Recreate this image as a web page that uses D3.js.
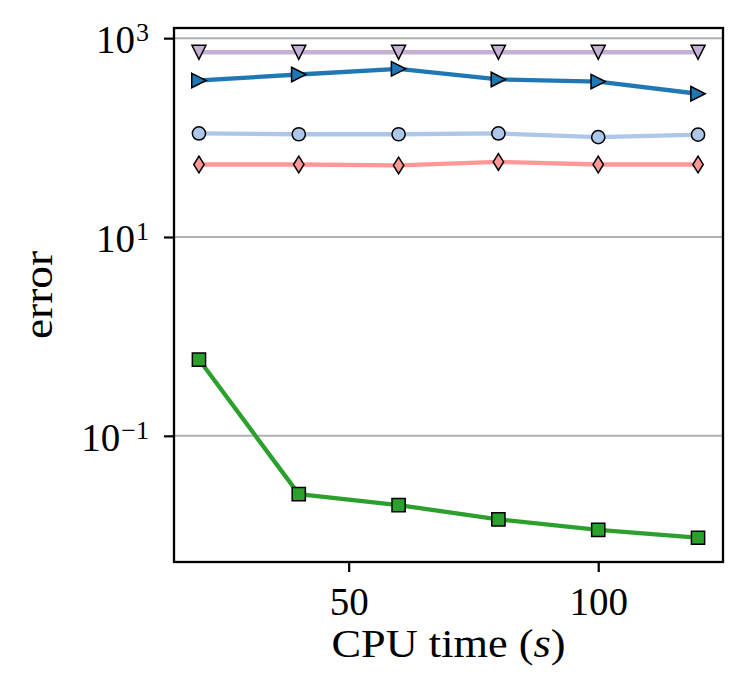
<!DOCTYPE html>
<html>
<head>
<meta charset="utf-8">
<script src="https://cdn.jsdelivr.net/npm/d3@7"></script>
<style>
  html, body { margin: 0; padding: 0; background: #fff; }
  svg text { font-family: "Liberation Serif", "DejaVu Serif", serif; fill: #000; }
</style>
</head>
<body>
<svg id="chart" width="746" height="700"></svg>
<script>
// ---- data ----
const cpuTime = [20, 40, 60, 80, 100, 120];
const seriesPurple = [721, 721, 721, 721, 721, 721];
const seriesDarkBlue = [375, 431, 491, 384, 366, 276];
const seriesLightBlue = [110, 108, 108, 110, 101, 107];
const seriesPink = [53.6, 53.6, 52.4, 56.9, 53.6, 53.6];
const seriesGreen = [0.585, 0.0259, 0.0201, 0.01445, 0.0113, 0.00944];
const xTickValues = [50, 100];
const yTickExponents = [-1, 1, 3];
const xLabel = "CPU time";
const yLabel = "error";

const series = [
  { values: seriesPurple, color: "#c5b0d5", marker: "tridown" },
  { values: seriesDarkBlue, color: "#1f77b4", marker: "triright" },
  { values: seriesLightBlue, color: "#aec7e8", marker: "circle" },
  { values: seriesPink, color: "#ff9896", marker: "thindiamond" },
  { values: seriesGreen, color: "#2ca02c", marker: "square" }
];

// ---- layout ----
const plotL = 174, plotR = 723, plotT = 28, plotB = 562;
const svg = d3.select("#chart");

// x domain with 5% margins
const xMin = d3.min(cpuTime), xMax = d3.max(cpuTime);
const xPad = (xMax - xMin) * 0.05;
const x = d3.scaleLinear().domain([xMin - xPad, xMax + xPad]).range([plotL, plotR]);

// y log domain with 5% margins in log space
const allVals = series.flatMap(s => s.values);
const lmin = Math.log10(d3.min(allVals)), lmax = Math.log10(d3.max(allVals));
const lpad = (lmax - lmin) * 0.05;
const y = d3.scaleLog().domain([Math.pow(10, lmin - lpad), Math.pow(10, lmax + lpad)]).range([plotB, plotT]);

const yTicks = yTickExponents.map(e => Math.pow(10, e));

// clip
svg.append("defs").append("clipPath").attr("id", "clip")
  .append("rect").attr("x", plotL).attr("y", plotT).attr("width", plotR - plotL).attr("height", plotB - plotT);

// grid
svg.append("g").selectAll("line").data(yTicks).join("line")
  .attr("x1", plotL).attr("x2", plotR)
  .attr("y1", d => y(d)).attr("y2", d => y(d))
  .attr("stroke", "#b0b0b0").attr("stroke-width", 2);

// markers
function markerPath(type) {
  switch (type) {
    case "tridown": { const s = 7.0; return `M${-s},${-s}L${s},${-s}L0,${s}Z`; }
    case "triright": { const s = 7.2; return `M${-s},${-s}L${s},0L${-s},${s}Z`; }
    case "square": { const s = 6.6; return `M${-s},${-s}H${s}V${s}H${-s}Z`; }
    case "thindiamond": { const w = 5.2, h = 8.3; return `M0,${-h}L${w},0L0,${h}L${-w},0Z`; }
    case "circle": { const r = 6.6; return `M${r},0A${r},${r} 0 1,1 ${-r},0A${r},${r} 0 1,1 ${r},0Z`; }
  }
}

const plot = svg.append("g").attr("clip-path", "url(#clip)");
const line = d3.line().x((d, i) => x(cpuTime[i])).y(d => y(d));

series.forEach(s => {
  const g = plot.append("g");
  g.append("path").datum(s.values)
    .attr("d", line).attr("fill", "none")
    .attr("stroke", s.color).attr("stroke-width", 4.3)
    .attr("stroke-linejoin", "round").attr("stroke-linecap", "square");
  g.selectAll("path.m").data(s.values).join("path").attr("class", "m")
    .attr("transform", (d, i) => `translate(${x(cpuTime[i])},${y(d)})`)
    .attr("d", markerPath(s.marker))
    .attr("fill", s.color).attr("stroke", "#000").attr("stroke-width", 1.5)
    .attr("stroke-linejoin", "miter");
});

// axes
const xAxis = d3.axisBottom(x).tickValues(xTickValues).tickSize(10).tickPadding(12)
  .tickFormat(d3.format("d"));
const gx = svg.append("g").attr("transform", `translate(0,${plotB})`).call(xAxis);
gx.select(".domain").remove();
gx.selectAll(".tick line").attr("stroke", "#000").attr("stroke-width", 2.2);
gx.selectAll(".tick text").attr("font-size", 39).attr("dy", "0.8em")
  .style("font-family", "'Liberation Serif', serif");

const yAxis = d3.axisLeft(y).tickValues(yTicks).tickSize(10).tickPadding(12).tickFormat("");
const gy = svg.append("g").attr("transform", `translate(${plotL},0)`).call(yAxis);
gy.select(".domain").remove();
gy.selectAll(".tick line").attr("stroke", "#000").attr("stroke-width", 2.2);
gy.selectAll(".tick text").each(function(d) {
  const e = Math.round(Math.log10(d));
  const t = d3.select(this).text(null)
    .attr("font-size", 39).attr("x", -25).attr("dy", "0.38em").attr("text-anchor", "end")
    .style("font-family", "'Liberation Serif', serif");
  t.append("tspan").text("10");
  t.append("tspan").attr("font-size", 26).attr("dy", "-0.48em").attr("dx", 1)
    .text(e < 0 ? "\u2212" + Math.abs(e) : String(e));
});

// frame
svg.append("rect").attr("x", plotL).attr("y", plotT)
  .attr("width", plotR - plotL).attr("height", plotB - plotT)
  .attr("fill", "none").attr("stroke", "#000").attr("stroke-width", 2.3);

// axis labels
const xl = svg.append("text").attr("x", (plotL + plotR) / 2).attr("y", 657)
  .attr("text-anchor", "middle").attr("font-size", 39)
  .attr("textLength", 234).attr("lengthAdjust", "spacingAndGlyphs");
xl.append("tspan").text(xLabel + " (");
xl.append("tspan").attr("font-style", "italic").text("s");
xl.append("tspan").text(")");

svg.append("text")
  .attr("transform", `translate(52,${(plotT + plotB) / 2}) rotate(-90)`)
  .attr("text-anchor", "middle").attr("font-size", 39)
  .attr("textLength", 88).attr("lengthAdjust", "spacingAndGlyphs")
  .text(yLabel);
</script>
</body>
</html>
